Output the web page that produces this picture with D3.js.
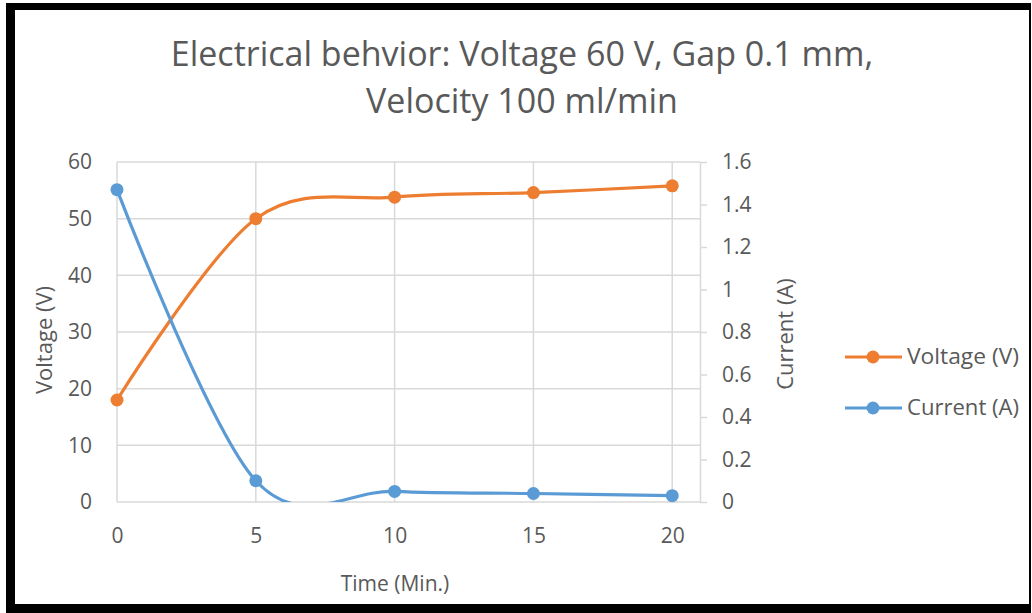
<!DOCTYPE html>
<html>
<head>
<meta charset="utf-8">
<script src="https://cdn.jsdelivr.net/npm/d3@7"></script>
<style>
  html, body { margin: 0; padding: 0; background: #fff; }
  svg { display: block; font-family: "Open Sans", sans-serif; }
</style>
</head>
<body>
<div id="chart"></div>
<script>
// data
const times = [0, 5, 10, 15, 20];
const voltage = [18, 50, 53.8, 54.6, 55.8];
const current = [1.47, 0.10, 0.05, 0.04, 0.03];

const timeTicks = [0, 5, 10, 15, 20];
const voltTicks = [0, 10, 20, 30, 40, 50, 60];
const currentTicks = [0, 0.2, 0.4, 0.6, 0.8, 1, 1.2, 1.4, 1.6];

const titleLines = ["Electrical behvior: Voltage 60 V, Gap 0.1 mm,", "Velocity 100 ml/min"];

const width = 1032;
const height = 613;
const textColor = "#595959";
const gridColor = "#d9d9d9";
const orange = "#ed7d31";
const blue = "#5b9bd5";

const plot = {left: 117, right: 700, top: 162, bottom: 502};

const svg = d3.select("#chart").append("svg")
  .attr("width", width)
  .attr("height", height)
  .attr("viewBox", [0, 0, width, height]);

// black frame around the picture
svg.append("rect").attr("width", width).attr("height", height).attr("fill", "#fff");
svg.append("path")
  .attr("fill", "#000")
  .attr("fill-rule", "evenodd")
  .attr("d", `M6,3H1031V613H6Z M15,10V604H1029V10Z`);

const x = d3.scaleLinear().domain([0, 21]).range([plot.left, plot.right]);
const yV = d3.scaleLinear().domain([0, 60]).range([plot.bottom, plot.top]);
const yC = d3.scaleLinear().domain([0, 1.6]).range([plot.bottom, plot.top]);

// title
svg.append("text")
  .attr("text-anchor", "middle")
  .attr("fill", textColor)
  .attr("font-size", 34)
  .selectAll("tspan")
  .data(titleLines)
  .join("tspan")
  .attr("x", 522)
  .attr("y", (d, i) => 66 + i * 47)
  .text(d => d);

// gridlines
const grid = svg.append("g").attr("stroke", gridColor).attr("stroke-width", 1.5);
grid.selectAll(".h")
  .data(voltTicks)
  .join("line")
  .attr("x1", plot.left).attr("x2", plot.right)
  .attr("y1", d => yV(d)).attr("y2", d => yV(d));
grid.selectAll(".v")
  .data(timeTicks)
  .join("line")
  .attr("x1", d => x(d)).attr("x2", d => x(d))
  .attr("y1", plot.top).attr("y2", plot.bottom);

const tickFont = 21;

// left axis
svg.append("g")
  .attr("transform", `translate(${plot.left},0)`)
  .call(d3.axisLeft(yV).tickValues(voltTicks).tickSize(0).tickPadding(25))
  .call(g => g.select(".domain").remove())
  .call(g => g.selectAll("text").attr("fill", textColor).attr("font-size", tickFont).attr("font-family", "Open Sans"));

// right axis
svg.append("g")
  .attr("transform", `translate(${plot.right},0)`)
  .call(d3.axisRight(yC).tickValues(currentTicks).tickSize(7).tickPadding(15).tickSizeOuter(0)
    .tickFormat(d => d3.format("~g")(d)))
  .call(g => g.select(".domain").attr("stroke", gridColor).attr("stroke-width", 1.5))
  .call(g => g.selectAll(".tick line").attr("stroke", gridColor).attr("stroke-width", 1.5))
  .call(g => g.selectAll("text").attr("fill", textColor).attr("font-size", tickFont).attr("font-family", "Open Sans"));

// bottom axis
svg.append("g")
  .attr("transform", `translate(0,${plot.bottom})`)
  .call(d3.axisBottom(x).tickValues(timeTicks).tickSize(0).tickPadding(26))
  .call(g => g.select(".domain").remove())
  .call(g => g.selectAll("text").attr("fill", textColor).attr("font-size", tickFont).attr("font-family", "Open Sans"));

// axis titles
svg.append("text")
  .attr("transform", "translate(52,340) rotate(-90)")
  .attr("text-anchor", "middle")
  .attr("fill", textColor)
  .attr("font-size", 22)
  .text("Voltage (V)");

svg.append("text")
  .attr("transform", "translate(793,334) rotate(-90)")
  .attr("text-anchor", "middle")
  .attr("fill", textColor)
  .attr("font-size", 22)
  .text("Current (A)");

svg.append("text")
  .attr("x", 395)
  .attr("y", 591)
  .attr("text-anchor", "middle")
  .attr("fill", textColor)
  .attr("font-size", 21)
  .text("Time (Min.)");

// series
const series = [
  {name: "Voltage (V)", color: orange, y: yV, values: voltage},
  {name: "Current (A)", color: blue, y: yC, values: current}
];

svg.append("clipPath").attr("id", "plot-clip")
  .append("rect")
  .attr("x", plot.left - 10).attr("y", plot.top - 10)
  .attr("width", plot.right - plot.left + 20)
  .attr("height", plot.bottom - plot.top + 10);

const line = (s) => d3.line()
  .x((d, i) => x(times[i]))
  .y(d => s.y(d))
  .curve(d3.curveCatmullRom.alpha(0))(s.values);

const lines = svg.append("g").attr("clip-path", "url(#plot-clip)");
lines.selectAll("path")
  .data(series)
  .join("path")
  .attr("fill", "none")
  .attr("stroke", d => d.color)
  .attr("stroke-width", 3.2)
  .attr("stroke-linejoin", "round")
  .attr("d", d => line(d));

series.forEach(s => {
  svg.append("g")
    .attr("fill", s.color)
    .selectAll("circle")
    .data(s.values)
    .join("circle")
    .attr("cx", (d, i) => x(times[i]))
    .attr("cy", d => s.y(d))
    .attr("r", 6.5);
});

// legend
const legend = svg.append("g")
  .selectAll("g")
  .data(series)
  .join("g")
  .attr("transform", (d, i) => `translate(845,${357 + i * 51})`);
legend.append("line")
  .attr("x1", 0).attr("x2", 57)
  .attr("stroke", d => d.color)
  .attr("stroke-width", 3.2);
legend.append("circle")
  .attr("cx", 28).attr("r", 6.5)
  .attr("fill", d => d.color);
legend.append("text")
  .attr("x", 62)
  .attr("dy", "0.35em")
  .attr("fill", textColor)
  .attr("font-size", 21)
  .attr("textLength", 112)
  .attr("lengthAdjust", "spacingAndGlyphs")
  .text(d => d.name);
</script>
</body>
</html>
